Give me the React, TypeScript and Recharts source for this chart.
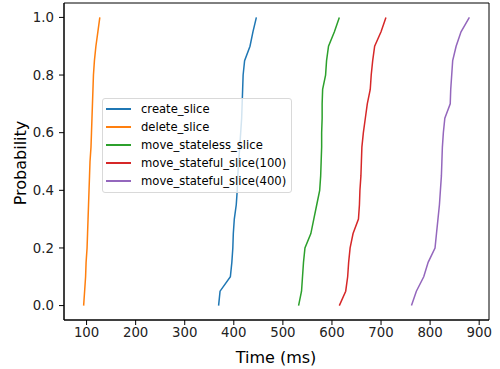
import { LineChart, Line, XAxis, YAxis, Legend, ReferenceArea } from 'recharts';

// CDF levels shared by every series
const probs = [0, 0.05, 0.1, 0.15, 0.2, 0.25, 0.3, 0.35, 0.4, 0.45, 0.5, 0.55, 0.6, 0.65, 0.7, 0.75, 0.8, 0.85, 0.9, 0.95, 1.0];

const createSlice = [369, 372, 393, 396, 398, 399, 401, 405, 407, 408, 410, 412, 414, 416, 417, 418, 419, 422, 433, 439, 446];
const deleteSlice = [94, 96, 98, 99, 101, 102, 103, 104, 105, 106, 107, 109, 110, 111, 112, 113, 114, 116, 119, 123, 127];
const moveStateless = [532, 538, 540, 542, 545, 557, 563, 569, 575, 577, 578, 579, 579, 580, 580, 581, 587, 589, 593, 605, 615];
const moveStateful100 = [615, 628, 632, 634, 637, 643, 654, 656, 657, 659, 660, 661, 664, 668, 672, 678, 680, 683, 687, 700, 710];
const moveStateful400 = [762, 772, 787, 796, 810, 813, 816, 819, 821, 823, 824, 825, 827, 830, 841, 842, 844, 846, 853, 863, 880];

const xTicks = [100, 200, 300, 400, 500, 600, 700, 800, 900];
const yTicks = [0, 0.2, 0.4, 0.6, 0.8, 1.0];

const series = [
    { name: 'create_slice', values: createSlice, color: '#1f77b4' },
    { name: 'delete_slice', values: deleteSlice, color: '#ff7f0e' },
    { name: 'move_stateless_slice', values: moveStateless, color: '#2ca02c' },
    { name: 'move_stateful_slice(100)', values: moveStateful100, color: '#d62728' },
    { name: 'move_stateful_slice(400)', values: moveStateful400, color: '#9467bd' },
];

const font = 'DejaVu Sans';

export default function App() {
    const lines = series.map((s) => ({
        ...s,
        data: s.values.map((x, i) => ({ x, p: probs[i] })),
    }));

    return (
        <div style={{ position: 'absolute', left: 0, top: 0, fontFamily: font }}>
            <LineChart width={500} height={369} margin={{ top: 3, right: 11, bottom: 0, left: 0 }}>
                <XAxis
                    type="number"
                    dataKey="x"
                    domain={[54, 920]}
                    ticks={xTicks}
                    allowDataOverflow
                    height={49}
                    stroke="#000"
                    tickSize={5}
                    tickMargin={3}
                    tick={{ fill: '#222', fontSize: 13.3, fontFamily: font }}
                    label={{
                        content: () => (
                            <text x={276} y={357} textAnchor="middle" dominantBaseline="central" fontSize={16} fontFamily={font} fill="#000">
                                Time (ms)
                            </text>
                        ),
                    }}
                />
                <YAxis
                    type="number"
                    dataKey="p"
                    domain={[-0.05, 1.05]}
                    ticks={yTicks}
                    allowDataOverflow
                    width={64}
                    stroke="#000"
                    tickSize={5}
                    tickMargin={5}
                    tickFormatter={(v: number) => v.toFixed(1)}
                    tick={{ fill: '#222', fontSize: 13.3, fontFamily: font }}
                    label={{
                        content: () => (
                            <text x={20} y={163} transform="rotate(-90 20 163)" textAnchor="middle" dominantBaseline="central" fontSize={16} fontFamily={font} fill="#000">
                                Probability
                            </text>
                        ),
                    }}
                />
                <ReferenceArea x1={54} x2={920} y1={-0.05} y2={1.05} fill="none" stroke="#000" strokeWidth={1} ifOverflow="visible" />
                {lines.map((s) => (
                    <Line
                        key={s.name}
                        data={s.data}
                        dataKey="p"
                        name={s.name}
                        type="linear"
                        stroke={s.color}
                        strokeWidth={1.5}
                        dot={false}
                        isAnimationActive={false}
                    />
                ))}
                <Legend
                    layout="vertical"
                    align="center"
                    verticalAlign="middle"
                    wrapperStyle={{ position: 'absolute', left: 102, top: 98, width: 'auto', margin: 0 }}
                    content={() => (
                        <div
                            style={{
                                border: '1px solid #d9d9d9',
                                borderRadius: 3,
                                background: 'rgba(255,255,255,0.8)',
                                padding: '1px 5px 2px 3px',
                                fontSize: 11.6,
                                fontFamily: font,
                                color: '#000',
                            }}
                        >
                            {series.map((s) => (
                                <div key={s.name} style={{ display: 'flex', alignItems: 'center', height: 18 }}>
                                    <span style={{ display: 'inline-block', width: 25, height: 2, background: s.color, marginRight: 10 }} />
                                    <span>{s.name}</span>
                                </div>
                            ))}
                        </div>
                    )}
                />
            </LineChart>
        </div>
    );
}
